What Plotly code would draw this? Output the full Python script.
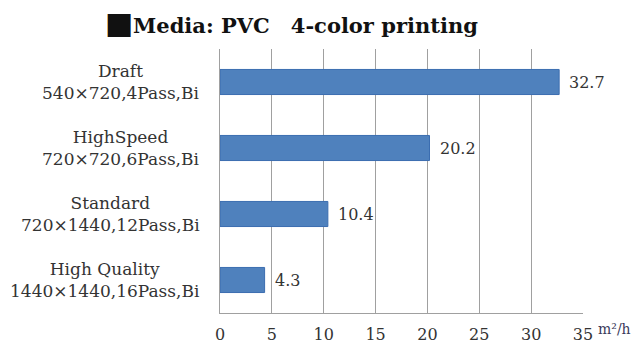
import plotly.graph_objects as go

# Print modes and their resolution / pass settings
modes = ["Draft", "HighSpeed", "Standard", "High Quality"]
settings = ["540×720,4Pass,Bi", "720×720,6Pass,Bi", "720×1440,12Pass,Bi", "1440×1440,16Pass,Bi"]
speeds = [32.7, 20.2, 10.4, 4.3]  # m²/h
x_ticks = [0, 5, 10, 15, 20, 25, 30, 35]

serif = "DejaVu Serif, Liberation Serif, serif"
text_color = "#333333"

fig = go.Figure(go.Bar(
    x=speeds,
    y=modes,
    orientation="h",
    width=0.38,
    marker=dict(color="#4f81bd", line=dict(color="#3b6db0", width=1)),
    cliponaxis=False,
))

# Two-line category labels, centred on each other, right edge left of the axis
annotations = [
    dict(text=f"{m}<br>{s}", x=0, xref="paper", y=m, yref="y",
         xanchor="right", yanchor="middle", align="center", xshift=-18,
         showarrow=False, font=dict(family=serif, size=17, color=text_color))
    for m, s in zip(modes, settings)
]
# Value labels just past the end of each bar
annotations += [
    dict(text=f"{v:.1f}", x=v, xref="x", y=m, yref="y",
         xanchor="left", yanchor="middle", xshift=8,
         showarrow=False, font=dict(family=serif, size=16, color=text_color))
    for m, v in zip(modes, speeds)
]
# Unit label after the last tick
annotations.append(dict(
    text="m²/h", xref="paper", yref="paper",
    x=1.0, y=0, xanchor="left", yanchor="middle",
    xshift=13, yshift=-16, showarrow=False,
    font=dict(family=serif, size=14, color="#3a3a5a"),
))

fig.update_layout(
    width=636, height=347,
    margin=dict(l=220, r=53, t=49, b=34),
    paper_bgcolor="white", plot_bgcolor="white",
    showlegend=False,
    title=dict(
        text='<b><span style="font-size:30px">■</span>Media: PVC　4-color printing</b>',
        x=0.458, xanchor="center", y=0.925, yanchor="middle",
        font=dict(family=serif, size=21, color="#111111"),
    ),
    xaxis=dict(
        range=[0, 35], tickvals=x_ticks, automargin=False,
        showgrid=True, gridcolor="#a0a0a0", gridwidth=1,
        showline=True, linecolor="#a0a0a0", linewidth=1,
        zeroline=False, ticks="",
        ticklabelstandoff=7,
        tickfont=dict(family=serif, size=16, color=text_color),
    ),
    yaxis=dict(
        autorange="reversed", automargin=False,
        showline=True, linecolor="#a0a0a0", linewidth=1,
        showgrid=False, ticks="", showticklabels=False,
    ),
    annotations=annotations,
)

fig.write_html("out.html")
